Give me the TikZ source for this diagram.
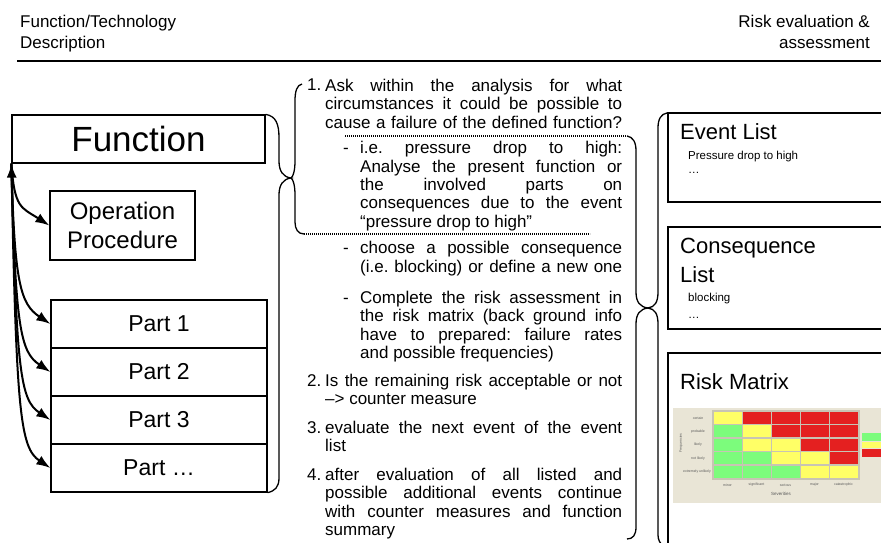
\documentclass[tikz,border=0pt]{standalone}
\usepackage{fontspec}
\setmainfont{Liberation Sans}
\usetikzlibrary{arrows.meta}
\definecolor{beige}{RGB}{233,229,214}
\definecolor{cy}{RGB}{255,255,102}
\definecolor{cr}{RGB}{228,32,32}
\definecolor{cg}{RGB}{124,252,124}
\definecolor{gg}{RGB}{200,196,180}
\definecolor{tgray}{RGB}{90,90,90}
\newcommand{\JL}[2]{\makebox[#1][s]{\strut#2}}
\newcommand{\NL}[1]{\strut#1}
\newcommand{\bodyfs}{\fontsize{17pt}{18.4pt}\selectfont\frenchspacing}
\begin{document}
\begin{tikzpicture}[x=1pt,y=-1pt,
  fbox/.style={draw,line width=1.2pt,inner sep=0pt},
  rbox/.style={draw,line width=1.8pt,inner sep=0pt,anchor=north west,minimum width=240pt},
  arr/.style={line width=2pt,-{Latex[length=14pt,width=10pt]}},
  brc/.style={line width=1.3pt},
  dots/.style={line width=1.6pt,dash pattern=on 1.1pt off 0.9pt},
  para/.style={inner sep=0pt,align=left,font=\bodyfs,anchor=north west},
  lbl/.style={inner sep=0pt,font=\bodyfs,anchor=base west},
  hdr/.style={inner sep=0pt,font=\fontsize{17pt}{20pt}\selectfont},
  ttl/.style={inner sep=0pt,anchor=base west,font=\fontsize{22pt}{26pt}\selectfont},
  sml/.style={inner sep=0pt,anchor=base west,font=\fontsize{11.5pt}{13pt}\selectfont},
  tiny/.style={inner sep=0pt,font=\fontsize{3.5pt}{4pt}\selectfont,text=tgray}]
\useasboundingbox (0,0) rectangle (881,543);
\clip (0,0) rectangle (881,543);

% header
\node[hdr,anchor=base west] (hL1) at (20,28) {Function/Technology};
\node[hdr,anchor=base west] (hL2) at (20,49) {Description};
\node[hdr,anchor=base east] (hR1) at (870,28) {Risk evaluation \&};
\node[hdr,anchor=base east] (hR2) at (870,49) {assessment};
\draw[line width=1.5pt] (17,61) coordinate (hl) -- (881,61) coordinate (hr);

% left boxes
\node[fbox,minimum width=253pt,minimum height=48pt,font=\fontsize{35pt}{40pt}\selectfont] (fn) at (138.5,139) {Function};
\node[fbox,minimum width=145pt,minimum height=69pt,align=center,font=\fontsize{24pt}{29pt}\selectfont] (op) at (122.5,225.5) {Operation\\Procedure};
\node[fbox,minimum width=216pt,minimum height=48pt,font=\fontsize{23pt}{27pt}\selectfont] (p1) at (159,324) {Part 1};
\node[fbox,minimum width=216pt,minimum height=48pt,font=\fontsize{23pt}{27pt}\selectfont] (p2) at (159,372) {Part 2};
\node[fbox,minimum width=216pt,minimum height=48pt,font=\fontsize{23pt}{27pt}\selectfont] (p3) at (159,420) {Part 3};
\node[fbox,minimum width=216pt,minimum height=48pt,font=\fontsize{23pt}{27pt}\selectfont] (p4) at (159,468) {Part …};

% arrows
\draw[arr] (fn.south west) .. controls +(3,45) and +(-28,-18) .. (op.west);
\draw[arr] (fn.south west) .. controls +(3,120) and +(-30,-20) .. (p1.west);
\draw[arr] (fn.south west) .. controls +(4,165) and +(-30,-20) .. (p2.west);
\draw[arr] (fn.south west) .. controls +(5,210) and +(-30,-20) .. (p3.west);
\draw[arr,{Latex[length=14pt,width=10pt]}-{Latex[length=14pt,width=10pt]}] (fn.south west) .. controls +(5,250) and +(-30,-20) .. (p4.west);

% brace A (function/parts)
\draw[brc] (fn.north east) .. controls (276,116) and (279,124) .. (279,138) -- (279,161)
  .. controls (279,171) and (283,177) .. (291,178) coordinate (tipA)
  .. controls (283,179) and (279,185) .. (279,195) -- (279,478)
  .. controls (279,487) and (275,491) .. (p4.south east);

% brace B (text) with dotted frame
\draw[brc] (302,84) .. controls (297,85) and (295,91) .. (295,101) -- (295,161)
  .. controls (295,171) and (293,177) .. (tipA)
  .. controls (293,179) and (295,185) .. (295,195) -- (295,222)
  .. controls (295,229) and (298,234) .. (304,234) coordinate (db1);
\coordinate (db2) at (590,234);
\draw[dots] (db1) -- (db2);
\coordinate (dt1) at (345,136);
\coordinate (dt2) at (627,136);
\draw[dots] (dt1) -- (dt2);
% brace C
\draw[brc] (dt2) .. controls (633,137) and (636,142) .. (636,151) -- (636,292)
  .. controls (636,302) and (640,307) .. (648,308) coordinate (tipC)
  .. controls (640,309) and (636,314) .. (636,324) -- (636,527)
  .. controls (636,535) and (633,539) .. (627,539);
% brace D
\draw[brc] (667,113) .. controls (661,114) and (658,119) .. (658,128) -- (658,292)
  .. controls (658,302) and (655,307) .. (tipC)
  .. controls (655,309) and (658,314) .. (658,324) -- (658,535)
  .. controls (658,540) and (660,543) .. (663,546);

% middle text
\node[lbl] (n1) at (307,91) {1.};
\node[para] (t1) at (325,{91-12.88}) {\JL{297pt}{Ask within the analysis for what}\\\JL{297pt}{circumstances it could be possible to}\\\JL{297pt}{cause a failure of the defined function?}};
\node[lbl] (d1) at (343,153.5) {-};
\node[para] (s1) at (360,{153.5-12.88}) {\JL{262pt}{i.e. pressure drop to high:}\\\JL{262pt}{Analyse the present function or}\\\JL{262pt}{the involved parts on}\\\JL{262pt}{consequences due to the event}\\\NL{“pressure drop to high”}};
\node[lbl] (d2) at (343,253.5) {-};
\node[para] (s2) at (360,{253.5-12.88}) {\JL{262pt}{choose a possible consequence}\\\JL{262pt}{(i.e. blocking) or define a new one}};
\node[lbl] (d3) at (343,303) {-};
\node[para] (s3) at (360,{303-12.88}) {\JL{262pt}{Complete the risk assessment in}\\\JL{262pt}{the risk matrix (back ground info}\\\JL{262pt}{have to prepared: failure rates}\\\NL{and possible frequencies)}};
\node[lbl] (n2) at (307,386) {2.};
\node[para] (t2) at (325,{386-12.88}) {\JL{297pt}{Is the remaining risk acceptable or not}\\\NL{–> counter measure}};
\node[lbl] (n3) at (307,433) {3.};
\node[para] (t3) at (325,{433-12.88}) {\JL{297pt}{evaluate the next event of the event}\\\NL{list}};
\node[lbl] (n4) at (307,480) {4.};
\node[para] (t4) at (325,{480-12.88}) {\JL{297pt}{after evaluation of all listed and}\\\JL{297pt}{possible additional events continue}\\\JL{297pt}{with counter measures and function}\\\NL{summary}};

% right boxes
\node[rbox,minimum height=89pt] (ev) at (667,112) {};
\node[ttl] (evt) at (680,139) {Event List};
\node[sml] (ev1) at (688,159) {Pressure drop to high};
\node[sml] (ev2) at (688,173) {…};

\node[rbox,minimum height=102pt] (cq) at (667,226) {};
\node[ttl] (cqt1) at (680,253) {Consequence};
\node[ttl] (cqt2) at (680,282) {List};
\node[sml] (cq1) at (688,301) {blocking};
\node[sml] (cq2) at (688,318) {…};

\node[rbox,minimum height=220pt] (rm) at (667,352) {};
\node[ttl] (rmt) at (680,389) {Risk Matrix};

% risk matrix picture
\fill[beige] (673,408) rectangle (885,503);
\fill[gg] (712,410) rectangle (859.5,480);
\foreach \i/\j/\cc in {0/0/cy,1/0/cr,2/0/cr,3/0/cr,4/0/cr,
                        0/1/cg,1/1/cy,2/1/cr,3/1/cr,4/1/cr,
                        0/2/cg,1/2/cy,2/2/cy,3/2/cr,4/2/cr,
                        0/3/cg,1/3/cg,2/3/cy,3/3/cy,4/3/cr,
                        0/4/cg,1/4/cg,2/4/cg,3/4/cy,4/4/cy}
  \fill[\cc] ({714+29*\i},{412+13.4*\j}) rectangle +(27.5,12);
\fill[cg] (862,433) rectangle (885,441);
\fill[cy] (862,442) rectangle (885,448);
\fill[cr] (862,449) rectangle (885,457);
\node[tiny] (rl1) at (698,418) {certain};
\node[tiny] (rl2) at (698,431.4) {probable};
\node[tiny] (rl3) at (698,444.8) {likely};
\node[tiny] (rl4) at (698,458.2) {not likely};
\node[tiny] (rl5) at (697,471.6) {extremely unlikely};
\node[tiny,rotate=90] (fq) at (681,443) {Frequencies};
\node[tiny] (cl1) at (727.5,485) {minor};
\node[tiny] (cl2) at (756.5,485) {significant};
\node[tiny] (cl3) at (785.5,485) {serious};
\node[tiny] (cl4) at (814.5,485) {major};
\node[tiny] (cl5) at (843.5,485) {catastrophic};
\node[tiny,font=\fontsize{4.5pt}{5pt}\selectfont] (sv) at (781,494) {Severities};
\end{tikzpicture}
\end{document}
